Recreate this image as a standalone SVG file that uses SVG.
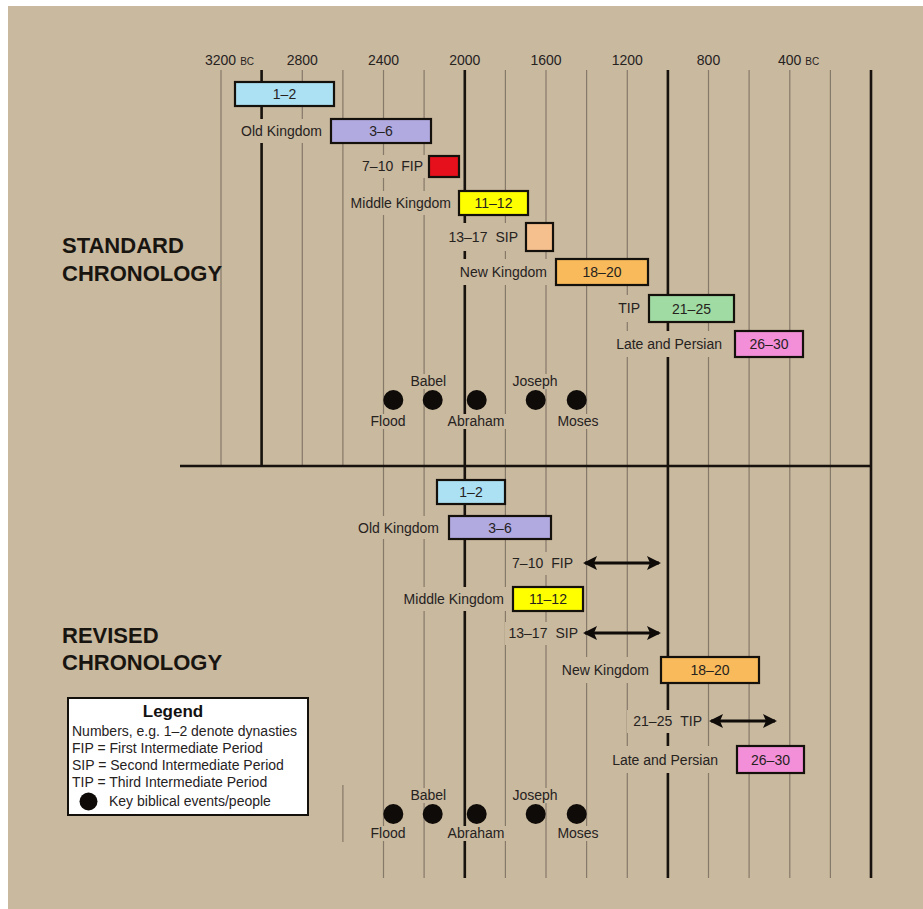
<svg xmlns="http://www.w3.org/2000/svg" width="923" height="909" viewBox="0 0 923 909">
<style>
text{font-family:"Liberation Sans",Arial,sans-serif;fill:#26221e}
.ax{font-size:14px;text-anchor:middle}
.bc{font-size:10px}
.lbl{font-size:14px;text-anchor:end}
.bt{font-size:14px;text-anchor:middle}
.ev{font-size:14px;text-anchor:middle}
.title{font-size:22px;font-weight:bold;fill:#181410}
.bg{fill:#c9b99e}
.thin{stroke:#85796a;stroke-width:1.2;fill:none}
.thick{stroke:#17120e;stroke-width:2.6;fill:none}
.bar{stroke:#14100c;stroke-width:2.2}
.dot{fill:#0e0b09}
.arr{stroke:#0e0b09;stroke-width:3.2;fill:none;marker-start:url(#ah);marker-end:url(#ah)}
.lg{font-size:14px}
</style>
<defs>
<marker id="ah" viewBox="0 0 14 14" refX="12" refY="7" markerWidth="14" markerHeight="14" markerUnits="userSpaceOnUse" orient="auto-start-reverse">
<path d="M0,0 L14,7 L0,14 L3,7 Z" fill="#0e0b09"/>
</marker>
</defs>
<rect x="0" y="0" width="923" height="909" fill="#ffffff"/>
<rect x="8" y="6" width="915" height="903" class="bg"/>

<g id="grid">
<g class="thin">
<path d="M221,70V466M302.3,70V466M342.9,70V466M383.5,70V466M424.1,70V466M505.4,70V466M546,70V466M586.6,70V466M627.3,70V466M708.5,70V466M749.1,70V466M789.8,70V466M830.4,70V466"/>
<path d="M342.9,785V842M383.5,466V878M424.1,466V878M505.4,466V878M546,466V878M586.6,466V878M627.3,466V878M708.5,466V878M749.1,466V878M789.8,466V878M830.4,466V878"/>
</g>
<g class="thick">
<path d="M261.6,70V466M464.8,70V878M667.9,70V878M871,70V878M180,466H872"/>
</g>
</g>

<g id="axis-labels">
<text class="ax" x="205" y="65" style="text-anchor:start">3200<tspan class="bc" dx="4">BC</tspan></text>
<text class="ax" x="302.3" y="65">2800</text>
<text class="ax" x="383.5" y="65">2400</text>
<text class="ax" x="464.8" y="65">2000</text>
<text class="ax" x="546" y="65">1600</text>
<text class="ax" x="627.3" y="65">1200</text>
<text class="ax" x="708.5" y="65">800</text>
<text class="ax" x="778" y="65" style="text-anchor:start">400<tspan class="bc" dx="4">BC</tspan></text>
</g>

<g id="titles">
<text class="title" x="62" y="253">STANDARD</text>
<text class="title" x="62" y="281">CHRONOLOGY</text>
<text class="title" x="62" y="643">REVISED</text>
<text class="title" x="62" y="670">CHRONOLOGY</text>
</g>

<g id="label-backgrounds" class="bg">
<rect x="239" y="119" width="86" height="24"/>
<rect x="359" y="155" width="68" height="23"/>
<rect x="347" y="191" width="108" height="24"/>
<rect x="445" y="223" width="77" height="28"/>
<rect x="457" y="259" width="94" height="26"/>
<rect x="615" y="295" width="29" height="27"/>
<rect x="611" y="331" width="115" height="26"/>
<rect x="355" y="516" width="88" height="23"/>
<rect x="509" y="552" width="68" height="23"/>
<rect x="400" y="587" width="108" height="24"/>
<rect x="505" y="622" width="77" height="23"/>
<rect x="559" y="657" width="94" height="26"/>
<rect x="627" y="710" width="79" height="23"/>
<rect x="607" y="746" width="115" height="27"/>
<rect x="410" y="374" width="37" height="15"/>
<rect x="512" y="374" width="46" height="15"/>
<rect x="368" y="414" width="40" height="15"/>
<rect x="446" y="414" width="60" height="15"/>
<rect x="556" y="414" width="44" height="15"/>
<rect x="410" y="788" width="37" height="15"/>
<rect x="512" y="788" width="46" height="15"/>
<rect x="368" y="826" width="40" height="15"/>
<rect x="446" y="826" width="60" height="15"/>
<rect x="556" y="826" width="44" height="15"/>
</g>

<g id="std-1-2"><rect class="bar" x="235" y="82" width="99" height="24" fill="#abe1f3"/><text class="bt" x="284.5" y="99">1–2</text></g>
<g id="std-old-kingdom"><text class="lbl" x="322" y="136">Old Kingdom</text><rect class="bar" x="331" y="119" width="100" height="24" fill="#b1aae0"/><text class="bt" x="381" y="136">3–6</text></g>
<g id="std-fip"><text class="lbl" x="423" y="171">7–10<tspan dx="8">FIP</tspan></text><rect class="bar" x="429" y="156" width="30" height="21" fill="#e5101b"/></g>
<g id="std-middle-kingdom"><text class="lbl" x="451" y="208">Middle Kingdom</text><rect class="bar" x="459" y="191" width="69" height="24" fill="#ffff00"/><text class="bt" x="493.5" y="208">11–12</text></g>
<g id="std-sip"><text class="lbl" x="518" y="242">13–17<tspan dx="8">SIP</tspan></text><rect class="bar" x="526" y="223" width="27" height="28" fill="#f6c08e"/></g>
<g id="std-new-kingdom"><text class="lbl" x="547" y="277">New Kingdom</text><rect class="bar" x="556" y="259" width="92" height="26" fill="#f8ba5a"/><text class="bt" x="602" y="277">18–20</text></g>
<g id="std-tip"><text class="lbl" x="640" y="313">TIP</text><rect class="bar" x="649" y="295" width="85" height="27" fill="#a0dba3"/><text class="bt" x="691.5" y="314">21–25</text></g>
<g id="std-late"><text class="lbl" x="722" y="349">Late and Persian</text><rect class="bar" x="735" y="331" width="68" height="26" fill="#f38fd8"/><text class="bt" x="769" y="349">26–30</text></g>

<g id="std-events">
<circle class="dot" cx="393.3" cy="400" r="10"/>
<circle class="dot" cx="432.7" cy="400" r="10"/>
<circle class="dot" cx="476.7" cy="400" r="10"/>
<circle class="dot" cx="535.7" cy="400" r="10"/>
<circle class="dot" cx="576.7" cy="400" r="10"/>
<text class="ev" x="428.3" y="386">Babel</text>
<text class="ev" x="535" y="386">Joseph</text>
<text class="ev" x="388" y="426">Flood</text>
<text class="ev" x="476" y="426">Abraham</text>
<text class="ev" x="578" y="426">Moses</text>
</g>

<g id="rev-1-2"><rect class="bar" x="437" y="480" width="68" height="24" fill="#abe1f3"/><text class="bt" x="471" y="497">1–2</text></g>
<g id="rev-old-kingdom"><text class="lbl" x="439" y="533">Old Kingdom</text><rect class="bar" x="449" y="516" width="102" height="23" fill="#b1aae0"/><text class="bt" x="500" y="533">3–6</text></g>
<g id="rev-fip"><text class="lbl" x="573" y="568">7–10<tspan dx="8">FIP</tspan></text></g>
<g id="rev-middle-kingdom"><text class="lbl" x="504" y="604">Middle Kingdom</text><rect class="bar" x="513" y="587" width="70" height="24" fill="#ffff00"/><text class="bt" x="548" y="604">11–12</text></g>
<g id="rev-sip"><text class="lbl" x="578" y="638">13–17<tspan dx="8">SIP</tspan></text></g>
<g id="rev-new-kingdom"><text class="lbl" x="649" y="675">New Kingdom</text><rect class="bar" x="661" y="657" width="98" height="26" fill="#f8ba5a"/><text class="bt" x="710" y="675">18–20</text></g>
<g id="rev-tip"><text class="lbl" x="702" y="726">21–25<tspan dx="8">TIP</tspan></text></g>
<g id="rev-late"><text class="lbl" x="718" y="765">Late and Persian</text><rect class="bar" x="737" y="746" width="67" height="27" fill="#f38fd8"/><text class="bt" x="770.5" y="765">26–30</text></g>

<g id="connectors">
<line class="arr" x1="585" y1="563" x2="659" y2="563"/>
<line class="arr" x1="585" y1="633" x2="659" y2="633"/>
<line class="arr" x1="711" y1="721" x2="775" y2="721"/>
</g>

<g id="rev-events">
<circle class="dot" cx="393.3" cy="814" r="10"/>
<circle class="dot" cx="432.7" cy="814" r="10"/>
<circle class="dot" cx="476.7" cy="814" r="10"/>
<circle class="dot" cx="535.7" cy="814" r="10"/>
<circle class="dot" cx="576.7" cy="814" r="10"/>
<text class="ev" x="428.3" y="800">Babel</text>
<text class="ev" x="535" y="800">Joseph</text>
<text class="ev" x="388" y="838">Flood</text>
<text class="ev" x="476" y="838">Abraham</text>
<text class="ev" x="578" y="838">Moses</text>
</g>

<g id="legend">
<rect x="68" y="698" width="240" height="117" fill="#ffffff" stroke="#14100c" stroke-width="2"/>
<text x="173" y="717" style="font-size:17px;font-weight:bold;text-anchor:middle;fill:#111">Legend</text>
<text class="lg" x="72" y="736">Numbers, e.g. 1–2 denote dynasties</text>
<text class="lg" x="72" y="753">FIP = First Intermediate Period</text>
<text class="lg" x="72" y="770">SIP = Second Intermediate Period</text>
<text class="lg" x="72" y="787">TIP = Third Intermediate Period</text>
<circle class="dot" cx="88.5" cy="801.5" r="9"/>
<text class="lg" x="109" y="806">Key biblical events/people</text>
</g>
</svg>
